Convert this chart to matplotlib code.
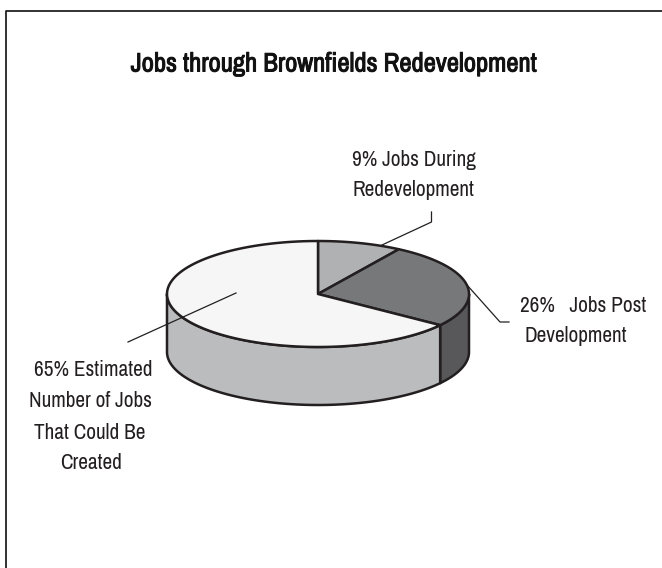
#!/usr/bin/env python3

import numpy as np
import matplotlib
matplotlib.use("Agg")
import matplotlib.pyplot as plt
import matplotlib.patheffects as pe

title = "Jobs through Brownfields Redevelopment"
shares = [9, 26, 65]
top_colors = ["#b0b1b3", "#77787a", "#f6f6f6"]
side_colors = ["#b0b1b3", "#58585a", "#bbbcbe"]
edge = "#231f20"

# pie geometry in pixels
cx, cy = 318, 294
rx, ry = 151, 53
depth = 58

plt.rcParams['font.family'] = ['Archivo Narrow', 'Roboto Condensed', 'Liberation Sans Narrow', 'Liberation Sans', 'DejaVu Sans']

fig = plt.figure(figsize=(6.62, 5.68), dpi=100)
ax = fig.add_axes([0, 0, 1, 1])
ax.set_xlim(0, 662)
ax.set_ylim(568, 0)
ax.axis("off")

def rim(a0, a1, n=120):
    # angles in percent, clockwise from twelve o'clock
    t = np.radians(np.linspace(a0, a1, n) * 3.6)
    return cx + rx * np.sin(t), cy - ry * np.cos(t)

# outer frame, open on the right and at the bottom
ax.plot([5.5, 5.5, 662], [568, 10.5, 10.5], color="#222222", lw=1.3, zorder=1)

starts = np.cumsum([0] + shares[:-1])
ends = np.cumsum(shares)

# side wall: only the front half of the rim is visible
for s, e, c in zip(starts, ends, side_colors):
    lo, hi = max(s, 25), min(e, 75)
    if lo >= hi:
        continue
    x, y = rim(lo, hi)
    px = np.concatenate([x, x[::-1]])
    py = np.concatenate([y, y[::-1] + depth])
    ax.fill(px, py, facecolor=c, edgecolor=edge, lw=1.8, joinstyle="round", zorder=2)

# top face
for s, e, c in zip(starts, ends, top_colors):
    x, y = rim(s, e)
    px = np.concatenate([[cx], x, [cx]])
    py = np.concatenate([[cy], y, [cy]])
    ax.fill(px, py, facecolor=c, edgecolor=edge, lw=1.8, joinstyle="round", zorder=3)

# leader lines
leader = dict(color=edge, lw=0.9, zorder=4)
ax.plot([431.5, 431.5, 382], [212, 222, 245], **leader)
ax.plot([467, 500, 509], [285, 322, 322], **leader)
ax.plot([236, 128], [293, 342], **leader)

# the narrow face has no bold cut, so thicken it with a stroke
ax.text(334, 64, title, fontsize=19.2, color="#111111", ha="center", va="center",
        path_effects=[pe.withStroke(linewidth=0.7, foreground="#111111")])

label = dict(fontsize=15.3, color="#231f20", va="center")
ax.text(352.5, 160, "9% Jobs During", ha="left", **label)
ax.text(352.5, 190, "Redevelopment", ha="left", **label)
ax.text(520, 306, "26%   Jobs Post", ha="left", **label)
ax.text(524, 336, "Development", ha="left", **label)
ax.text(93.5, 370, "65% Estimated", ha="center", **label)
ax.text(90.5, 401, "Number of Jobs", ha="center", **label)
ax.text(90, 433, "That Could Be", ha="center", **label)
ax.text(91.5, 463, "Created", ha="center", **label)

fig.savefig("out.png", dpi=100)
